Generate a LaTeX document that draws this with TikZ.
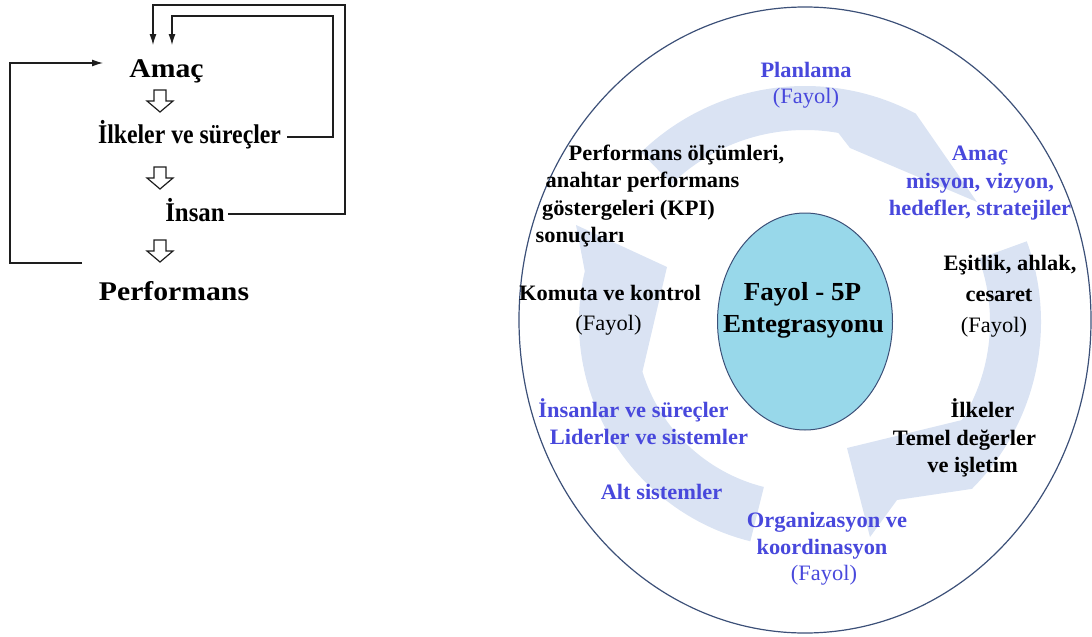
\documentclass[tikz,border=0pt]{standalone}
\usepackage{fontspec}
\setmainfont{Liberation Serif}
\usetikzlibrary{arrows.meta,calc}
\definecolor{txtblue}{RGB}{72,72,220}
\definecolor{arrowfill}{RGB}{218,227,243}
\definecolor{ellfill}{RGB}{152,216,234}
\definecolor{ringline}{RGB}{60,80,120}
\definecolor{lineblk}{RGB}{30,30,30}
\newcommand{\Rsc}[1]{\scalebox{1.02}[1]{#1}}
\newcommand{\Csc}[1]{\scalebox{1.04}[1]{#1}}
\newcommand{\Lsc}[2]{\scalebox{#1}[1]{#2}}
\begin{document}
\begin{tikzpicture}[x=1pt,y=-1pt,
  lt/.style={font=\fontsize{27}{31}\selectfont\bfseries, inner sep=0pt, anchor=base, text=black},
  rb/.style={font=\fontsize{22}{26}\selectfont\bfseries, inner sep=0pt, anchor=base, text=black},
  rn/.style={font=\fontsize{22}{26}\selectfont, inner sep=0pt, anchor=base, text=black},
  bb/.style={rb, text=txtblue},
  bn/.style={rn, text=txtblue},
  ct/.style={font=\fontsize{26}{30}\selectfont\bfseries, inner sep=0pt, anchor=base, text=black},
  loopline/.style={draw=lineblk, line width=1.2pt},
  looparrow/.style={loopline, -{Latex[length=11pt,width=7pt]}},
  bigarrow/.style={fill=arrowfill, draw=none},
  hollowarrow/.pic={\draw[line width=1.2pt, fill=white, draw=lineblk] (-6,-11) -- (6,-11) -- (6,0) -- (13,0) -- (0,11) -- (-13,0) -- (-6,0) -- cycle;}
]
\useasboundingbox (0,0) rectangle (1092,637);

% ---------------- left diagram ----------------
\node[lt] (amac) at (166.5,77) {\Lsc{1.1}{Amaç}};
\node[lt] (ilke) at (189.5,143) {\Lsc{0.88}{İlkeler ve süreçler}};
\node[lt] (insan) at (195,221) {\Lsc{0.92}{İnsan}};
\node[lt] (perf) at (174,300) {\Lsc{1.1}{Performans}};

\pic at (160,101) {hollowarrow};
\pic at (160,178) {hollowarrow};
\pic at (160,251) {hollowarrow};

\coordinate (insanR) at (228,214);
\coordinate (ilkeR) at (287,137);
\coordinate (perfL) at (82,263);
\coordinate (amacT1) at (153,45);
\coordinate (amacT2) at (172,45);
\coordinate (amacL) at (103,63);

\draw[looparrow] (insanR) -- (345,214) -- (345,5) -- (153,5) -- (amacT1);
\draw[looparrow] (ilkeR) -- (333,137) -- (333,16) -- (172,16) -- (amacT2);
\draw[looparrow] (perfL) -- (10,263) -- (10,63) -- (amacL);

% ---------------- right diagram ----------------
\draw[ringline, line width=1.2pt] (805,320) ellipse [x radius=286, y radius=313];

% circular arrows
\fill[bigarrow] ($(805,322)+(226:236)$) arc[start angle=226, end angle=298, radius=236]
   -- (977,202) -- (850,148) -- ($(805,322)+(280:192)$)
   arc[start angle=280, end angle=226, radius=192] -- cycle;
\fill[bigarrow] ($(805,322)+(-20:236)$) arc[start angle=-20, end angle=45, radius=236]
   -- (897,500) -- (870,537) -- (847,448) -- ($(805,322)+(32:185)$)
   arc[start angle=32, end angle=-20, radius=185] -- cycle;
\fill[bigarrow] ($(805,322)+(104:226)$) arc[start angle=104, end angle=193, radius=226]
   -- (576,225) -- (667,267) -- ($(805,322)+(163:170)$)
   arc[start angle=163, end angle=104, radius=170] -- cycle;

\draw[ringline, line width=1pt, fill=ellfill] (805,321.5) ellipse [x radius=87.5, y radius=108.5];

\node[ct] (c1) at (802.5,300) {\Csc{Fayol - 5P}};
\node[ct] (c2) at (803.5,332) {\Csc{Entegrasyonu}};

\node[bb] (plan) at (806,77) {\Rsc{Planlama}};
\node[bn] (planf) at (806,103) {\Rsc{(Fayol)}};

\node[bb] (am1) at (980,160) {\Rsc{Amaç}};
\node[bb] (am2) at (980,188) {\Rsc{misyon, vizyon,}};
\node[bb] (am3) at (980,215) {\Rsc{hedefler, stratejiler}};

\node[rb] (es1) at (1010,270) {\Rsc{Eşitlik, ahlak,}};
\node[rb] (es2) at (999,301) {\Rsc{cesaret}};
\node[rn] (es3) at (994,332) {\Rsc{(Fayol)}};

\node[rb] (pf1) at (676.5,160) {\Rsc{Performans ölçümleri,}};
\node[rb] (pf2) at (642.5,187) {\Rsc{anahtar performans}};
\node[rb] (pf3) at (628.5,215) {\Rsc{göstergeleri (KPI)}};
\node[rb] (pf4) at (580,242) {\Rsc{sonuçları}};

\node[rb] (ko1) at (610,300) {\Rsc{Komuta ve kontrol}};
\node[rn] (ko2) at (608.5,330) {\Rsc{(Fayol)}};

\node[bb] (in1) at (633.5,417) {\Rsc{İnsanlar ve süreçler}};
\node[bb] (in2) at (649,444) {\Rsc{Liderler ve sistemler}};
\node[bb] (in3) at (661.5,499) {\Rsc{Alt sistemler}};

\node[rb] (il1) at (982.5,417) {\Rsc{İlkeler}};
\node[rb] (il2) at (964.5,445) {\Rsc{Temel değerler}};
\node[rb] (il3) at (972.5,472) {\Rsc{ve işletim}};

\node[bb] (or1) at (827,527) {\Rsc{Organizasyon ve}};
\node[bb] (or2) at (822,554) {\Rsc{koordinasyon}};
\node[bn] (or3) at (824,580) {\Rsc{(Fayol)}};
\end{tikzpicture}
\end{document}
